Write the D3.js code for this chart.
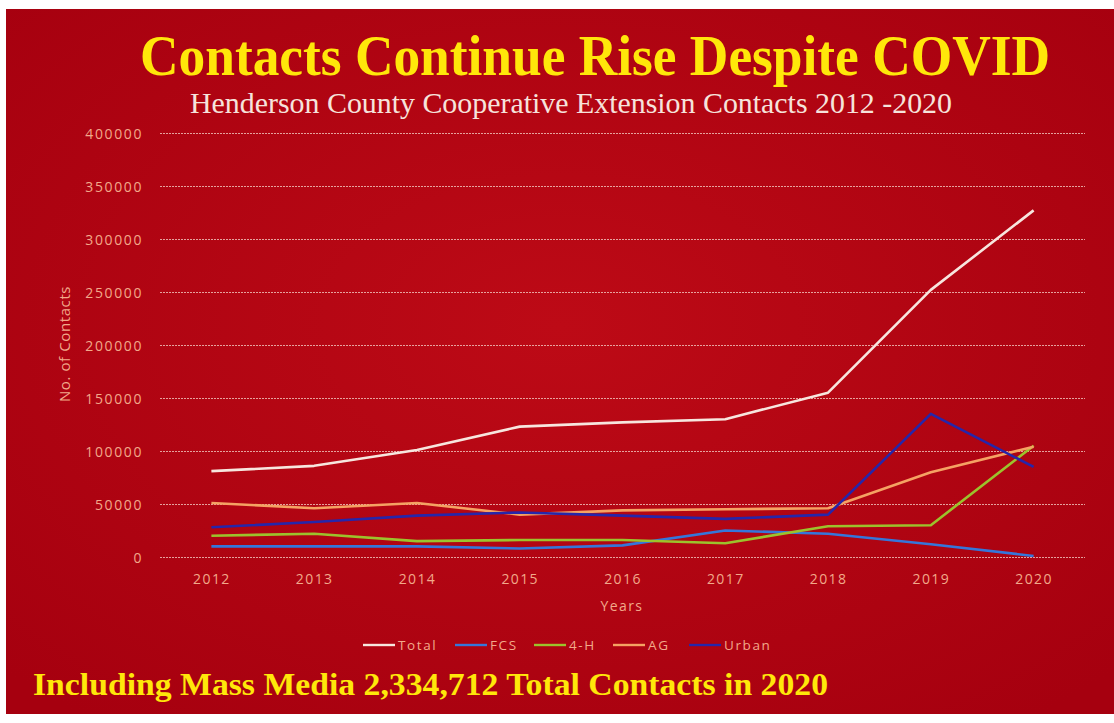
<!DOCTYPE html>
<html lang="en">
<head>
<meta charset="UTF-8">
<title>Contacts Continue Rise Despite COVID</title>
<script src="https://d3js.org/d3.v7.min.js"></script>
<style>
    body { margin: 0; background: #fff; }
    .tick text { font-family: "Open Sans", sans-serif; fill: #f2a98a; }
    .grid line { stroke: #f3c9c0; stroke-opacity: 0.8; stroke-dasharray: 2,1; }
    .series { fill: none; stroke-width: 2.6; stroke-linejoin: round; }
</style>
</head>
<body>
<svg width="1114" height="723"></svg>
<script>
    const width = 1114;
    const height = 723;

    // data
    const years = ["2012", "2013", "2014", "2015", "2016", "2017", "2018", "2019", "2020"];
    const total = [81000, 86000, 101000, 123000, 127000, 130000, 155000, 252000, 327000];
    const fcs   = [10000, 10000, 10000, 8000, 11000, 25000, 22000, 12000, 1000];
    const fourH = [20000, 22000, 15000, 16000, 16000, 13000, 29000, 30000, 105000];
    const ag    = [51000, 46000, 51000, 40000, 44000, 45000, 46000, 80000, 104000];
    const urban = [28000, 33000, 39000, 42000, 39000, 36000, 40000, 135000, 85000];
    const yTicks = [0, 50000, 100000, 150000, 200000, 250000, 300000, 350000, 400000];

    const series = [
        { name: "Total", values: total, color: "#f7e6de" },
        { name: "FCS", values: fcs, color: "#3576da" },
        { name: "4-H", values: fourH, color: "#9cc22c" },
        { name: "AG", values: ag, color: "#f5a263" },
        { name: "Urban", values: urban, color: "#2626aa" }
    ];

    const plotLeft = 160, plotRight = 1085, plotTop = 133, plotBottom = 557;

    const svg = d3.select("svg")
        .attr("width", width)
        .attr("height", height);

    // background
    const defs = svg.append("defs");
    const grad = defs.append("radialGradient")
        .attr("id", "bg")
        .attr("cx", "50%").attr("cy", "45%").attr("r", "70%");
    grad.append("stop").attr("offset", "0%").attr("stop-color", "#bd0a16");
    grad.append("stop").attr("offset", "100%").attr("stop-color", "#a6000f");

    svg.append("rect")
        .attr("x", 6).attr("y", 9)
        .attr("width", width - 6).attr("height", 705)
        .attr("fill", "url(#bg)");

    const x = d3.scalePoint()
        .domain(years)
        .range([plotLeft, plotRight])
        .padding(0.5);

    const y = d3.scaleLinear()
        .domain([0, 400000])
        .range([plotBottom, plotTop]);

    // gridlines
    svg.append("g")
        .attr("class", "grid")
        .attr("transform", `translate(${plotLeft},0)`)
        .call(d3.axisLeft(y).tickValues(yTicks).tickSize(-(plotRight - plotLeft)).tickFormat(""))
        .call(g => g.select(".domain").remove());

    // y axis labels
    svg.append("g")
        .attr("transform", `translate(${plotLeft - 14},0)`)
        .call(d3.axisLeft(y).tickValues(yTicks).tickSize(0).tickFormat(d3.format("d")))
        .call(g => g.select(".domain").remove())
        .selectAll("text")
        .attr("font-size", 14)
        .attr("letter-spacing", "1.6px")
        .attr("dy", "0.36em");

    // x axis labels
    svg.append("g")
        .attr("transform", `translate(0,${plotBottom + 14})`)
        .call(d3.axisBottom(x).tickSize(0))
        .call(g => g.select(".domain").remove())
        .selectAll("text")
        .attr("font-size", 14)
        .attr("letter-spacing", "1.4px")
        .attr("dy", "0.71em");

    // lines
    const line = d3.line()
        .x((d, i) => x(years[i]))
        .y(d => y(d));

    svg.append("g")
        .selectAll("path")
        .data(series)
        .enter().append("path")
        .attr("class", "series")
        .attr("stroke", d => d.color)
        .attr("d", d => line(d.values));

    // axis titles
    svg.append("text")
        .attr("x", 622).attr("y", 611)
        .attr("text-anchor", "middle")
        .attr("font-family", "Open Sans, sans-serif")
        .attr("font-size", 14)
        .attr("letter-spacing", "1.4px")
        .attr("fill", "#f2a98a")
        .text("Years");

    svg.append("text")
        .attr("transform", "translate(70,344) rotate(-90)")
        .attr("text-anchor", "middle")
        .attr("font-family", "Open Sans, sans-serif")
        .attr("font-size", 15)
        .attr("letter-spacing", "0.6px")
        .attr("fill", "#f2a98a")
        .text("No. of Contacts");

    // legend
    const legendX = [363, 455, 534, 613, 689];
    const legend = svg.append("g")
        .selectAll("g")
        .data(series)
        .enter().append("g")
        .attr("transform", (d, i) => `translate(${legendX[i]},645)`);
    legend.append("line")
        .attr("x1", 0).attr("x2", 32)
        .attr("stroke", d => d.color)
        .attr("stroke-width", 2.4);
    legend.append("text")
        .attr("x", 35).attr("dy", "0.36em")
        .attr("font-family", "Open Sans, sans-serif")
        .attr("font-size", 13.5)
        .attr("letter-spacing", "1.6px")
        .attr("fill", "#f2a98a")
        .text(d => d.name);

    // titles
    svg.append("text")
        .attr("x", 140).attr("y", 75)
        .attr("textLength", 910)
        .attr("lengthAdjust", "spacingAndGlyphs")
        .attr("font-family", "Liberation Serif, serif")
        .attr("font-weight", "bold")
        .attr("font-size", 57)
        .attr("fill", "#ffe70a")
        .text("Contacts Continue Rise Despite COVID");

    svg.append("text")
        .attr("x", 190).attr("y", 113)
        .attr("textLength", 762)
        .attr("lengthAdjust", "spacingAndGlyphs")
        .attr("font-family", "Liberation Serif, serif")
        .attr("font-size", 30)
        .attr("fill", "#f6e3dc")
        .text("Henderson County Cooperative Extension Contacts 2012  -2020");

    svg.append("text")
        .attr("x", 33).attr("y", 695)
        .attr("textLength", 795)
        .attr("lengthAdjust", "spacingAndGlyphs")
        .attr("font-family", "Liberation Serif, serif")
        .attr("font-weight", "bold")
        .attr("font-size", 31)
        .attr("fill", "#ffe70a")
        .text("Including Mass Media 2,334,712 Total Contacts in 2020");
</script>
</body>
</html>
